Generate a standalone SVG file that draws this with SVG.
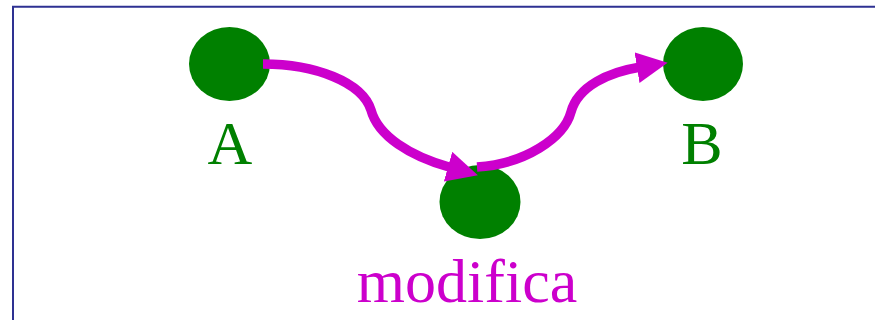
<svg xmlns="http://www.w3.org/2000/svg" width="875" height="320" viewBox="0 0 875 320">
<style>
.node{fill:#008000}
.lbl{font-family:"Liberation Serif","Times New Roman",serif;font-size:62px;text-anchor:middle}
.g{fill:#008000}
.m{fill:#cc00cc}
.conn{fill:none;stroke:#cc00cc;stroke-width:9.5;marker-end:url(#ah)}
</style>
<defs>
<marker id="ah" markerUnits="userSpaceOnUse" markerWidth="31" markerHeight="31" viewBox="0 0 31 31" refX="1" refY="15.5" orient="auto">
<path d="M0,0 L31,15.5 L0,31 z" fill="#cc00cc"/>
</marker>
</defs>
<path d="M13,320 V6.8 H875" fill="none" stroke="#2e3192" stroke-width="2"/>
<g id="nodeA">
<ellipse class="node" cx="229.5" cy="64" rx="40.5" ry="37"/>
<text class="lbl g" x="230" y="164">A</text>
</g>
<g id="nodeB">
<ellipse class="node" cx="703" cy="64" rx="40" ry="37"/>
<text class="lbl g" x="702" y="164">B</text>
</g>
<g id="nodeM">
<ellipse class="node" cx="480" cy="202" rx="40.5" ry="37"/>
<text class="lbl m" x="467" y="302">modifica</text>
</g>
<g id="connectors">
<path class="conn" d="M263,64 C315,64 362,82 371,110 C378,136 410,156 449,167"/>
<path class="conn" d="M477,167 C525,164 564,138 571,112 C578,86 610,72 638,67.5"/>
</g>
</svg>
